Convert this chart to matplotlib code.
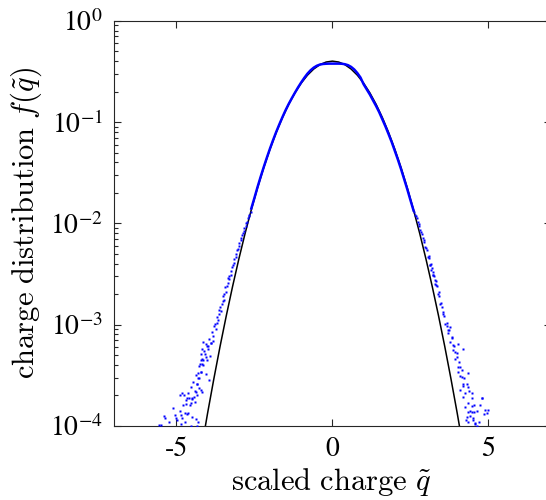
import math
import matplotlib
matplotlib.use("Agg")
import matplotlib.pyplot as plt
from matplotlib.ticker import LogLocator, FixedLocator, FuncFormatter, NullFormatter

# ---------------- data ----------------
# black reference curve
curve_x = [-4.2, -4.0, -3.8, -3.6, -3.4, -3.2, -3.0, -2.8, -2.6, -2.4, -2.2, -2.0,
           -1.8, -1.6, -1.4, -1.2, -1.0, -0.8, -0.6, -0.4, -0.2, 0.0,
           0.2, 0.4, 0.6, 0.8, 1.0, 1.2, 1.4, 1.6, 1.8, 2.0, 2.2, 2.4, 2.6,
           2.8, 3.0, 3.2, 3.4, 3.6, 3.8, 4.0, 4.2]
curve_y = [5.89e-5, 1.34e-4, 2.92e-4, 6.12e-4, 1.23e-3, 2.38e-3, 4.43e-3, 7.92e-3,
           0.0136, 0.0224, 0.0355, 0.0540, 0.0790, 0.1109, 0.1497, 0.1942, 0.2420,
           0.2897, 0.3332, 0.3683, 0.3910, 0.3989,
           0.3910, 0.3683, 0.3332, 0.2897, 0.2420, 0.1942, 0.1497, 0.1109, 0.0790,
           0.0540, 0.0355, 0.0224, 0.0136, 7.92e-3, 4.43e-3, 2.38e-3, 1.23e-3,
           6.12e-4, 2.92e-4, 1.34e-4, 5.89e-5]

# blue data: dense core
core_x = [-2.6, -2.5, -2.4, -2.3, -2.2, -2.1, -2.0, -1.9, -1.8, -1.7, -1.6, -1.5,
          -1.4, -1.3, -1.2, -1.1, -1.0, -0.9, -0.8, -0.7, -0.6, -0.5, -0.4, -0.3,
          -0.2, -0.1, 0.0, 0.1, 0.2, 0.3, 0.4, 0.5, 0.6, 0.7, 0.8, 0.9, 1.0, 1.1,
          1.2, 1.3, 1.4, 1.5, 1.6, 1.7, 1.8, 1.9, 2.0, 2.1, 2.2, 2.3, 2.4, 2.5, 2.6]
core_y = [0.0140, 0.0178, 0.0228, 0.0288, 0.0360, 0.0446, 0.0548, 0.0665, 0.0800,
          0.0950, 0.1120, 0.1310, 0.1510, 0.1720, 0.1950, 0.2200, 0.2460, 0.2730,
          0.3000, 0.3240, 0.3440, 0.3590, 0.3690, 0.3740, 0.3760, 0.3770, 0.3770,
          0.3770, 0.3770, 0.3760, 0.3720, 0.3640, 0.3500, 0.3300, 0.3040, 0.2750,
          0.2360, 0.2100, 0.1870, 0.1640, 0.1440, 0.1250, 0.1065, 0.0905, 0.0760,
          0.0635, 0.0520, 0.0425, 0.0343, 0.0273, 0.0217, 0.0170, 0.0134]

# blue data: left tail
left_x = [-2.62, -2.66, -2.70, -2.74, -2.78, -2.82, -2.86, -2.90, -2.94, -2.98,
          -3.02, -3.06, -3.10, -3.14, -3.18, -3.22, -3.26, -3.30, -3.34, -3.38,
          -3.42, -3.46, -3.50, -3.54, -3.58, -3.62, -3.66, -3.70, -3.74, -3.78,
          -3.82, -3.86, -3.90, -3.94, -3.98, -4.02, -4.06, -4.10, -4.14, -4.18,
          -4.22, -4.26, -4.30, -4.34, -4.38, -4.42, -4.46, -4.50, -4.54, -4.58,
          -4.62, -4.66, -4.70, -4.74, -4.78, -4.82, -4.86, -4.90, -5.02, -5.10,
          -5.25, -5.40, -5.55,
          -4.14, -4.04, -3.90, -3.83, -3.98, -4.17, -4.20, -4.08, -3.93, -4.22,
          -4.14, -4.01, -4.24, -4.17, -4.30, -4.22, -4.06, -3.95, -4.28, -4.35,
          -4.28, -4.22, -4.17, -4.38, -4.33, -4.44, -4.49, -4.60, -4.65, -4.81,
          -4.76, -4.90, -4.41, -4.54, -4.70, -4.73, -4.62, -4.86, -5.03, -5.37,
          -4.97, -4.49, -4.36, -4.30, -5.48, -4.54, -4.33,
          -3.60, -3.52, -3.44, -3.36, -3.70, -3.64, -3.76, -3.48,
          -2.68, -2.76, -2.84, -2.92, -3.00, -3.08, -3.16, -3.24, -3.32]
left_y = [0.0128, 0.0120, 0.0114, 0.0104, 0.0095, 0.0090, 0.0080, 0.0076, 0.0068,
          0.0064, 0.0056, 0.0054, 0.0047, 0.0044, 0.0039, 0.0037, 0.0031, 0.0030,
          0.0026, 0.0024, 0.0021, 0.0020, 0.0017, 0.0016, 0.00135, 0.00128,
          0.00112, 0.00105, 0.00090, 0.00098, 0.00078, 0.00085, 0.00066, 0.00072,
          0.00058, 0.00062, 0.00048, 0.00055, 0.00040, 0.00046, 0.00034, 0.00039,
          0.00030, 0.00026, 0.00032, 0.00022, 0.00027, 0.00019, 0.00024, 0.00016,
          0.00021, 0.00013, 0.00018, 0.00011, 0.00016, 0.00012, 0.000105, 0.00014,
          0.00012, 0.00015, 0.00011, 0.000125, 0.000102,
          6.8e-4, 6.5e-4, 6.6e-4, 6.9e-4, 6.1e-4, 5.8e-4, 5.1e-4, 5.1e-4, 4.9e-4,
          4.5e-4, 4.5e-4, 4.5e-4, 4.1e-4, 4.1e-4, 3.35e-4, 3.4e-4, 3.25e-4, 2.84e-4,
          2.95e-4, 2.6e-4, 2.35e-4, 2.26e-4, 2.18e-4, 2.18e-4, 2.0e-4, 1.94e-4,
          1.83e-4, 1.91e-4, 1.87e-4, 2.13e-4, 2.0e-4, 2.0e-4, 1.73e-4, 1.67e-4,
          1.64e-4, 1.35e-4, 1.33e-4, 1.27e-4, 1.27e-4, 1.2e-4, 1.14e-4, 1.22e-4,
          1.16e-4, 1.10e-4, 1.02e-4, 1.0e-4, 1.0e-4,
          0.00150, 0.00190, 0.00235, 0.00290, 0.00118, 0.00140, 0.00102, 0.00175,
          0.0118, 0.0101, 0.0084, 0.0071, 0.0060, 0.0050, 0.0041, 0.0034, 0.0028]

# blue data: right tail
right_x = [2.62, 2.66, 2.70, 2.74, 2.78, 2.82, 2.86, 2.90, 2.94, 2.98, 3.02, 3.06,
           3.10, 3.14, 3.18, 3.22, 3.26, 3.30, 3.34, 3.38, 3.42, 3.46, 3.50, 3.54,
           3.58, 3.62, 3.66, 3.70, 3.74, 3.78, 3.82, 3.86, 3.90, 3.94, 3.98, 4.02,
           4.06, 4.10, 4.14, 4.18, 4.22, 4.26, 4.30, 4.34, 4.38, 4.42, 4.46, 4.50,
           4.54, 4.58, 4.62, 4.70, 4.78, 4.86, 4.98,
           3.12, 3.17, 3.22, 3.28, 3.33, 3.42, 3.49, 3.55, 3.66, 3.76, 3.71, 3.82,
           3.87, 4.03, 4.19, 3.92, 3.98, 4.08, 4.03, 4.14, 4.35, 4.19, 4.35, 4.08,
           4.46, 4.19, 4.81, 4.24, 4.49, 4.73, 4.35, 4.46, 4.53, 4.89, 4.96, 4.30,
           4.41, 4.28, 4.35, 4.51, 4.57, 4.64,
           2.68, 2.76, 2.84, 2.92, 3.00, 3.08, 3.16, 3.24, 3.32]
right_y = [0.0130, 0.0121, 0.0112, 0.0103, 0.0094, 0.0086, 0.0079, 0.0071, 0.0066,
           0.0058, 0.0054, 0.0047, 0.0045, 0.0039, 0.0036, 0.0031, 0.0030, 0.0025,
           0.0024, 0.0020, 0.0019, 0.0016, 0.0015, 0.00128, 0.00122, 0.00102,
           0.00098, 0.00082, 0.00088, 0.00068, 0.00074, 0.00056, 0.00062, 0.00046,
           0.00052, 0.00038, 0.00043, 0.00031, 0.00036, 0.00025, 0.00030, 0.00021,
           0.00026, 0.00017, 0.00022, 0.00014, 0.00019, 0.00012, 0.00016, 0.000105,
           0.00014, 0.00011, 0.00019, 0.00013, 0.000145,
           3.9e-3, 3.46e-3, 3.09e-3, 2.76e-3, 2.46e-3, 2.11e-3, 1.62e-3, 1.34e-3,
           1.03e-3, 9.5e-4, 8.8e-4, 7.6e-4, 6.3e-4, 6.5e-4, 5.7e-4, 5.4e-4, 4.8e-4,
           3.8e-4, 3.4e-4, 3.06e-4, 3.3e-4, 2.6e-4, 2.44e-4, 2.26e-4, 2.1e-4,
           1.94e-4, 1.87e-4, 1.55e-4, 1.57e-4, 1.61e-4, 1.38e-4, 1.36e-4, 1.38e-4,
           1.44e-4, 1.33e-4, 1.23e-4, 1.25e-4, 1.14e-4, 1.10e-4, 1.14e-4, 1.06e-4,
           1.01e-4,
           0.0117, 0.0098, 0.0082, 0.0069, 0.0057, 0.0048, 0.0040, 0.0033, 0.0027]

x_ticks = [-5, 0, 5]
x_limits = (-7, 7)
y_limits = (1e-4, 1)

# ---------------- plotting ----------------
plt.rcParams["font.family"] = ["DejaVu Serif"]
fig = plt.figure(figsize=(5.46, 5.0), dpi=100)
ax = fig.add_axes([0.2088, 0.148, 0.800, 0.8106])

ax.plot(curve_x, curve_y, color="black", lw=1.1, zorder=2)
ax.plot(core_x, core_y, color="blue", lw=1.8, zorder=3)
ax.plot(left_x, left_y, ls="none", marker="s", ms=1.7, mec="none",
        mfc="blue", zorder=3)
ax.plot(right_x, right_y, ls="none", marker="s", ms=1.7, mec="none",
        mfc="blue", zorder=3)

ax.set_yscale("log")
ax.set_xlim(*x_limits)
ax.set_ylim(*y_limits)

ax.xaxis.set_major_locator(FixedLocator(x_ticks))
ax.set_xticklabels([str(t) for t in x_ticks], fontfamily="STIXGeneral", fontsize=20)
ax.yaxis.set_major_locator(LogLocator(base=10, numticks=10))
ax.yaxis.set_minor_locator(LogLocator(base=10, subs=range(2, 10), numticks=20))
ax.yaxis.set_minor_formatter(NullFormatter())
ax.yaxis.set_major_formatter(FuncFormatter(lambda v, p: r"$10^{%d}$" % round(math.log10(v))))
for lab in ax.get_yticklabels():
    lab.set_math_fontfamily("stix")
    lab.set_fontsize(20)

ax.tick_params(which="both", direction="in", top=True, right=True,
               color="#262626", width=0.8)
ax.tick_params(which="major", length=5, pad=8)
ax.tick_params(which="minor", length=3)
for s in ax.spines.values():
    s.set_color("#262626")
    s.set_linewidth(0.8)

ax.set_xlabel(r"$\mathrm{scaled\ charge}\ \tilde{q}$", fontsize=22, math_fontfamily="cm")
ax.set_ylabel(r"$\mathrm{charge\ distribution}\ f(\tilde{q})$", fontsize=22, math_fontfamily="cm")
ax.xaxis.label.set_verticalalignment("baseline")
ax.xaxis.set_label_coords(0.497, -0.158)
ax.yaxis.set_label_coords(-0.160, 0.5)

fig.savefig("out.png", dpi=100)
